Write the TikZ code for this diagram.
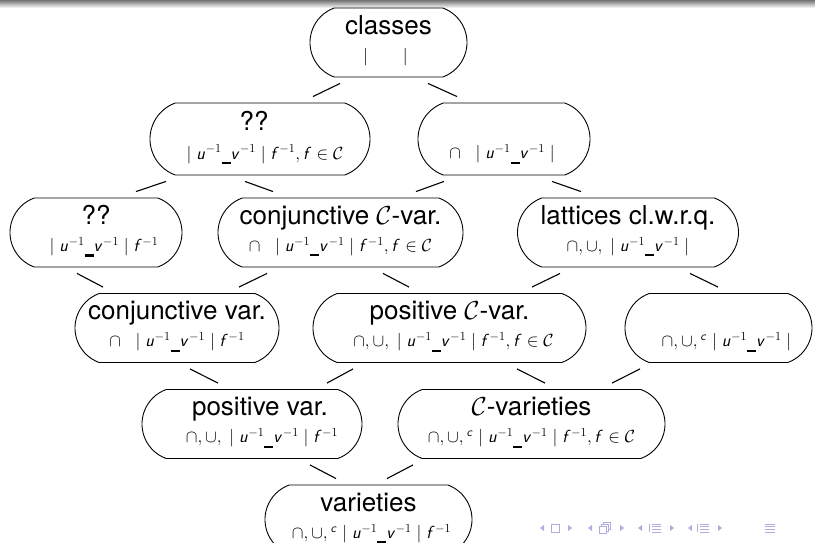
\RequirePackage{fix-cm}
\documentclass[tikz,border=0pt]{standalone}
\usepackage{fontspec}
\setmainfont{TeX Gyre Heros}
\usetikzlibrary{shapes.misc,calc}

% slanted sans letters inside formulas
\DeclareMathAlphabet{\mathssl}{OT1}{cmss}{m}{sl}
\newcommand{\vu}{\mathssl{u}}
\newcommand{\vv}{\mathssl{v}}
\newcommand{\vf}{\mathssl{f}}
\newcommand{\vc}{\mathssl{c}}
% placeholder bar between the two quotients
\newcommand{\hole}{\rule[-5pt]{9pt}{2.2pt}}
% second (operations) line of a class box, optionally moved right by #1
\newcommand{\ops}[2][0pt]{\makebox[0pt]{\hspace*{#1}\hspace*{#1}\fontsize{17.5}{27}\selectfont\strut#2}}
\newcommand{\ttl}[2][0pt]{\makebox[0pt]{\hspace*{#1}\hspace*{#1}\strut#2}}

\definecolor{navcol}{RGB}{173,173,224}

\tikzset{
  cls/.style={draw, line width=0.9pt, rounded rectangle, rounded rectangle arc length=140,
    minimum height=69pt, inner sep=0pt, align=center, font=\fontsize{26}{27}\selectfont},
  tall/.style={minimum height=72pt},
  link/.style={line width=1.1pt},
}

% connector from the bottom of #1 to the top of #2, horizontal offsets #3 and #4
\newcommand{\lnk}[4]{\draw[link] ($(#1.south)+(#3,6)$) -- ($(#2.north)+(#4,-6)$);}

\begin{document}
\begin{tikzpicture}[x=1pt,y=-1pt]
\useasboundingbox (0,0) rectangle (815,543);

% head line shading
\shade[top color=black!55, bottom color=white] (0,0) rectangle (815,8);

% row 1
\node[cls, minimum width=157pt] (classes) at (388.5,42.5)
  {\ttl{classes}\\ \ops[-3pt]{$\mid\qquad\mid$}};
% row 2
\node[cls, tall, minimum width=220pt] (q2) at (260,139)
  {\ttl[-6pt]{??}\\[2pt] \ops[5pt]{$\mid \vu^{-1}$\hole$\vv^{-1}\mid \vf^{-1}, \vf\in\mathcal{C}$}};
\node[cls, tall, minimum width=172pt] (meet) at (504,139)
  {\ttl{}\\[2pt] \ops[-2pt]{$\cap\ \ \mid \vu^{-1}$\hole$\vv^{-1}\mid$}};
% row 3
\node[cls, minimum width=172pt] (q3) at (96,232.5)
  {\ttl{??}\\ \ops[8pt]{$\mid \vu^{-1}$\hole$\vv^{-1}\mid \vf^{-1}$}};
\node[cls, minimum width=245pt] (conjC) at (340.5,232.5)
  {\ttl{conjunctive $\mathcal{C}$-var.}\\ \ops{$\cap\ \ \mid \vu^{-1}$\hole$\vv^{-1}\mid \vf^{-1}, \vf\in\mathcal{C}$}};
\node[cls, minimum width=221pt] (latt) at (628,232.5)
  {\ttl{lattices cl.w.r.q.}\\ \ops{$\cap,\cup,\ \mid \vu^{-1}$\hole$\vv^{-1}\mid$}};
% row 4
\node[cls, minimum width=204pt] (conj) at (177,328)
  {\ttl{conjunctive var.}\\ \ops{$\cap\ \ \mid \vu^{-1}$\hole$\vv^{-1}\mid \vf^{-1}$}};
\node[cls, minimum width=273pt] (posC) at (449.5,328)
  {\ttl{positive $\mathcal{C}$-var.}\\ \ops[4pt]{$\cap,\cup,\ \mid \vu^{-1}$\hole$\vv^{-1}\mid \vf^{-1}, \vf\in\mathcal{C}$}};
\node[cls, minimum width=187pt] (bool) at (718.5,328)
  {\ttl{}\\ \ops[8pt]{$\cap,\cup,{}^{\vc}\mid \vu^{-1}$\hole$\vv^{-1}\mid$}};
% row 5
\node[cls, minimum width=220pt] (pos) at (252,424)
  {\ttl[8pt]{positive var.}\\ \ops[10pt]{$\cap,\cup,\ \mid \vu^{-1}$\hole$\vv^{-1}\mid \vf^{-1}$}};
\node[cls, minimum width=267pt] (Cvar) at (531.5,424)
  {\ttl{$\mathcal{C}$-varieties}\\ \ops{$\cap,\cup,{}^{\vc}\mid \vu^{-1}$\hole$\vv^{-1}\mid \vf^{-1}, \vf\in\mathcal{C}$}};
% row 6
\node[cls, minimum width=207pt] (var) at (368.5,519.5)
  {\ttl{varieties}\\ \ops[3pt]{$\cap,\cup,{}^{\vc}\mid \vu^{-1}$\hole$\vv^{-1}\mid \vf^{-1}$}};

% inclusions
\lnk{classes}{q2}{-48.5}{53}
\lnk{classes}{meet}{39.5}{-47}
\lnk{q2}{q3}{-94}{40}
\lnk{q2}{conjC}{-15}{-67.5}
\lnk{meet}{conjC}{-60}{75.5}
\lnk{meet}{latt}{48}{-47}
\lnk{q3}{conj}{-19}{-74}
\lnk{conjC}{conj}{-73.5}{62}
\lnk{conjC}{posC}{42.5}{-40.5}
\lnk{latt}{posC}{-68}{82.5}
\lnk{latt}{bool}{62}{-0.5}
\lnk{conj}{pos}{13}{-34}
\lnk{posC}{pos}{-96.5}{75}
\lnk{posC}{Cvar}{67.5}{13.5}
\lnk{bool}{Cvar}{-78.5}{80.5}
\lnk{pos}{var}{58}{-32.5}
\lnk{Cvar}{var}{-118.5}{18.5}

% navigation symbols
\begin{scope}[line width=0.8pt]
  % left / right arrow heads
  \foreach \x in {542,590,640,690}
    \fill[navcol] (\x-2,528) -- (\x+2,525) -- (\x+2,531) -- cycle;
  \foreach \x in {570,622,672,720}
    \fill[navcol] (\x+2,528) -- (\x-2,525) -- (\x-2,531) -- cycle;
  % slide
  \draw[navcol] (551,524) rectangle (559,532);
  % frame
  \draw[navcol] (599,526) rectangle (606,533);
  \draw[navcol] (601,526) -- (601,524) -- (608,524) -- (608,531) -- (606,531);
  \draw[navcol] (603,524) -- (603,522) -- (610,522) -- (610,529) -- (608,529);
  % subsection and section
  \foreach \x in {655,703}{
    \draw[navcol] (\x-6,524) -- (\x-6,532);
    \foreach \y in {524,526.7,529.3,532}
      \draw[navcol, line width=0.9pt] (\x-3,\y) -- (\x+6,\y);
  }
  % document
  \foreach \y in {524,526.7,529.3,532}
    \draw[navcol, line width=0.9pt] (765,\y) -- (775,\y);
\end{scope}
\end{tikzpicture}
\end{document}
